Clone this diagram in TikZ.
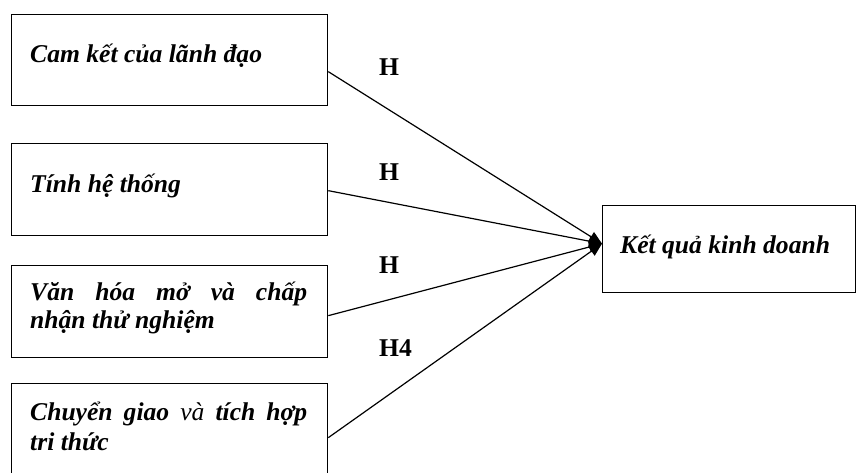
\documentclass[tikz,border=0pt]{standalone}
\usepackage{fontspec}
\setmainfont{Liberation Serif}
\usetikzlibrary{arrows.meta}
\begin{document}
\begin{tikzpicture}[x=1pt,y=-1pt,
  factor/.style={draw, line width=1.3pt, minimum width=316pt, inner sep=0pt, anchor=north west},
  txt/.style={anchor=base west, inner sep=0pt, font=\fontsize{25.6}{28.5}\selectfont\bfseries\itshape},
  hyp/.style={anchor=base west, inner sep=0pt, font=\fontsize{25.6}{28.5}\selectfont\bfseries},
  link/.style={line width=1.2pt, -{Triangle[length=13pt,width=11pt]}}
]
\clip (0,0) rectangle (856,472);
\fill[white] (0,0) rectangle (856,472);

% factor boxes (the last one runs past the lower edge)
\node[factor, minimum height=91pt] (c1) at (11,14) {};
\node[factor, minimum height=92pt] (c2) at (11,143) {};
\node[factor, minimum height=92pt] (c3) at (11,265) {};
\node[factor, minimum height=100pt] (c4) at (11,383) {};
\node[factor, minimum width=253pt, minimum height=87pt] (kq) at (602,205) {};

% box texts
\node[txt] (t1) at (30,62) {Cam kết của lãnh đạo};
\node[txt] (t2) at (30,192) {Tính hệ thống};
\node[txt] (t3a) at (30,300) {\makebox[277pt][s]{Văn hóa mở và chấp}};
\node[txt] (t3b) at (30,328) {nhận thử nghiệm};
\node[txt] (t4a) at (30,420) {\makebox[277pt][s]{Chuyển giao {\mdseries và} tích hợp}};
\node[txt] (t4b) at (30,450) {tri thức};
\node[txt] (tk) at (620,253) {Kết quả kinh doanh};

% hypothesis labels
\node[hyp] (h1) at (379,75) {H};
\node[hyp] (h2) at (379,180) {H};
\node[hyp] (h3) at (379,273) {H};
\node[hyp] (h4) at (379,356) {H4};

% connectors into the outcome box
\coordinate (hub) at ([yshift=5.5pt]kq.west);
\draw[link] ([yshift=-11.5pt]c1.east) -- (hub);
\draw[link] ([yshift=-1pt]c2.east) -- (hub);
\draw[link] ([yshift=-4pt]c3.east) -- (hub);
\draw[link] ([yshift=-4pt]c4.east) -- (hub);
\end{tikzpicture}
\end{document}
